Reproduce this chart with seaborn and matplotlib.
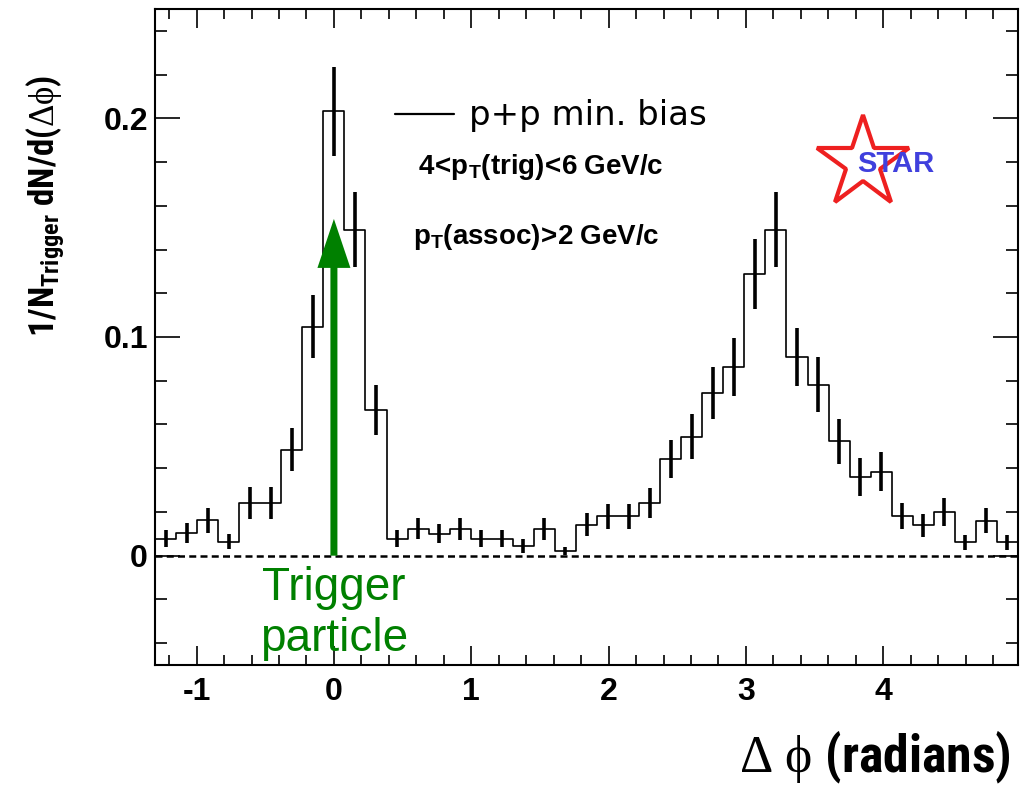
import os
import numpy as np
import pandas as pd
import matplotlib
matplotlib.use("Agg")
import matplotlib.pyplot as plt
import seaborn as sns
from matplotlib import font_manager as fm
from matplotlib.lines import Line2D
from matplotlib.ticker import MultipleLocator

# ---------------- data ----------------
n_bins_2pi = 41                       # 41 bins span the full 2*pi range
bin_index = np.arange(-8, 33)         # bin 0 is centred on dphi = 0
dndphi = [0.0078, 0.0104, 0.0161, 0.0063, 0.0241, 0.0241, 0.0485, 0.1046,
          0.2032, 0.1491, 0.0665, 0.0078, 0.0123, 0.0101, 0.0122, 0.0078,
          0.0078, 0.0043, 0.0122, 0.0023, 0.0142, 0.0180, 0.0180, 0.0241,
          0.0442, 0.0543, 0.0744, 0.0863, 0.1288, 0.1491, 0.0907, 0.0782,
          0.0523, 0.0360, 0.0383, 0.0180, 0.0139, 0.0200, 0.0061, 0.0160,
          0.0061]
dndphi_err = [0.0040, 0.0044, 0.0057, 0.0034, 0.0072, 0.0072, 0.0099, 0.0144,
              0.0203, 0.0173, 0.0114, 0.0040, 0.0047, 0.0042, 0.0049, 0.0040,
              0.0040, 0.0032, 0.0049, 0.0018, 0.0053, 0.0058, 0.0058, 0.0069,
              0.0085, 0.0103, 0.0119, 0.0131, 0.0162, 0.0173, 0.0133, 0.0126,
              0.0102, 0.0086, 0.0089, 0.0059, 0.0053, 0.0063, 0.0034, 0.0057,
              0.0034]
xtick_values = [-1, 0, 1, 2, 3, 4]
xtick_labels = ['-1', '0', '1', '2', '3', '4']
ytick_values = [0.0, 0.1, 0.2]
ytick_labels = ['0', '0.1', '0.2']
legend_label = 'p+p min. bias'
trig_text = r'$\mathbf{4\!<\!p_{T}(trig)\!<\!6\ GeV/c}$'
assoc_text = r'$\mathbf{p_{T}(assoc)\!>\!2\ GeV/c}$'
xlabel_text = r'$\Delta\ \phi\ \mathsf{(radians)}$'
ylabel_text = r'$\mathsf{1/N_{Trigger}\ dN/d(}\Delta\phi\mathsf{)}$'
arrow_x, arrow_y0, arrow_y1 = 0.0, 0.0, 0.154
ylim = (-0.05, 0.25)

bin_w = 2 * np.pi / n_bins_2pi
centers = bin_index * bin_w
edges = np.append(centers - bin_w / 2, centers[-1] + bin_w / 2)
df = pd.DataFrame({'dphi': centers, 'w': dndphi, 'err': dndphi_err})


# ---- pick a condensed bold face for the axis titles, if one is installed ----
def find_condensed_bold():
    wanted = ['LiberationSansNarrow-Bold.ttf', 'RobotoCondensed-Bold.ttf',
              'NotoSans-CondensedBold.ttf', 'DejaVuSansCondensed-Bold.ttf']
    entries = fm.fontManager.ttflist
    for w in wanted:
        for f in entries:
            if os.path.basename(f.fname) == w:
                return f
    for f in entries:
        b = os.path.basename(f.fname)
        if (('Condensed' in b or 'Narrow' in b) and 'Bold' in b
                and not any(s in b for s in ('Italic', 'Oblique', 'Semi', 'Extra', 'Mono'))):
            return f
    return None


cond = find_condensed_bold()
if cond is not None:
    SF_PATTERN = f"{cond.name}:weight=bold:stretch={cond.stretch}"
else:
    SF_PATTERN = 'Liberation Sans:bold'

sns.set_theme(style='ticks')
plt.rcParams.update({
    'font.family': ['Liberation Sans', 'DejaVu Sans'],
    'mathtext.fontset': 'custom',
    'mathtext.rm': 'Liberation Serif',
    'mathtext.it': 'Liberation Serif:italic',
    'mathtext.bf': 'Liberation Sans:bold',
    'mathtext.sf': SF_PATTERN,
    'mathtext.default': 'rm',
    'axes.linewidth': 1.5,
    'axes.edgecolor': 'black',
    'axes.labelcolor': 'black',
    'text.color': 'black',
    'xtick.color': 'black',
    'ytick.color': 'black',
})

fig = plt.figure(figsize=(10.21, 7.87), dpi=100)
ax = fig.add_axes([155 / 1021, 122 / 787, 863 / 1021, 656 / 787])

ax.axhline(0, color='black', lw=1.8, ls=(0, (2.8, 1.7)), zorder=1)

sns.histplot(data=df, x='dphi', weights='w', bins=edges.tolist(), element='step',
             fill=False, color='black', linewidth=1.2, ax=ax, zorder=3)
ax.errorbar(df['dphi'], df['w'], yerr=df['err'], fmt='none', ecolor='black',
            elinewidth=2.6, capsize=0, zorder=4)

ax.set_xlim(edges[0], edges[-1])
ax.set_ylim(*ylim)

ax.set_xticks(xtick_values, xtick_labels, fontsize=23, fontweight='bold')
ax.set_yticks(ytick_values, ytick_labels, fontsize=23, fontweight='bold')
ax.xaxis.set_minor_locator(MultipleLocator(0.2))
ax.yaxis.set_minor_locator(MultipleLocator(0.02))
ax.tick_params(which='both', direction='in', top=True, right=True, width=1.2)
ax.tick_params(axis='x', which='major', length=14, pad=9)
ax.tick_params(axis='x', which='minor', length=7)
ax.tick_params(axis='y', which='major', length=18, pad=5)
ax.tick_params(axis='y', which='minor', length=8.5)

xl = ax.set_xlabel(xlabel_text, fontsize=34, ha='right', color='black')
ax.xaxis.set_label_coords(0.992, -0.097)
yl = ax.set_ylabel(ylabel_text, fontsize=23, color='black')
yl.set_va('center')
ax.yaxis.set_label_coords(-0.127, 0.70)

# legend
handle = Line2D([], [], color='black', lw=1.6)
ax.legend([handle], [legend_label], loc='center left', bbox_to_anchor=(0.278, 0.837),
          frameon=False, handlelength=1.75, handletextpad=0.42, borderpad=0,
          borderaxespad=0, prop={'family': 'DejaVu Sans', 'size': 24.5})

ax.text(0.305, 0.7485, trig_text, transform=ax.transAxes, fontsize=20,
        ha='left', va='baseline')
ax.text(0.299, 0.642, assoc_text, transform=ax.transAxes, fontsize=20,
        ha='left', va='baseline')

# trigger arrow + label
ax.arrow(arrow_x, arrow_y0, 0, arrow_y1 - arrow_y0, width=0.051, head_width=0.24,
         head_length=0.0224, length_includes_head=True, color='#008000', lw=0,
         zorder=6)
ax.text(arrow_x, -0.0201, 'Trigger', color='#008000', fontsize=33,
        ha='center', va='baseline', zorder=6)
ax.text(arrow_x, -0.0438, 'particle', color='#008000', fontsize=33,
        ha='center', va='baseline', zorder=6)

# STAR logo
ax.plot([0.820], [0.765], marker='*', ms=69, mfc='none', mec='#ee2020', mew=3,
        transform=ax.transAxes, clip_on=False, zorder=7)
ax.text(0.8134, 0.7637, 'STAR', transform=ax.transAxes, color='#4040dd',
        fontsize=21, fontweight='bold', ha='left', va='center', zorder=8)

# fit axis-title sizes to the extents they have in the reference
fig.canvas.draw()
r = fig.canvas.get_renderer()
for _ in range(2):
    wx = xl.get_window_extent(r).width
    xl.set_fontsize(xl.get_fontsize() * 272.0 / wx)
    hy = yl.get_window_extent(r).height
    yl.set_fontsize(yl.get_fontsize() * 262.0 / hy)
    fig.canvas.draw()

fig.savefig('out.png', dpi=100)
